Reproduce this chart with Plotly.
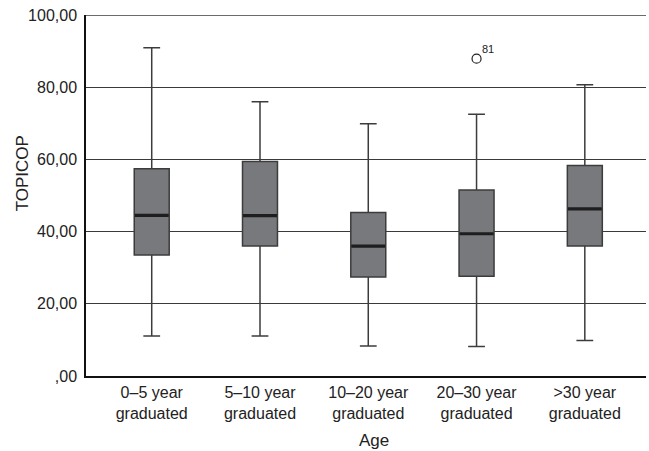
import plotly.graph_objects as go

categories = ["0–5 year<br>graduated", "5–10 year<br>graduated", "10–20 year<br>graduated",
              "20–30 year<br>graduated", ">30 year<br>graduated"]
lower_whisker = [11.1, 11.1, 8.3, 8.2, 9.8]
q1_values = [33.5, 36.0, 27.4, 27.6, 36.0]
median_values = [44.5, 44.4, 36.0, 39.4, 46.3]
q3_values = [57.4, 59.4, 45.3, 51.5, 58.3]
upper_whisker = [90.9, 76.0, 69.9, 72.5, 80.7]
outlier_group = [3]
outlier_values = [87.9]
outlier_labels = ["81"]
y_tickvals = [0, 20, 40, 60, 80, 100]
y_ticktext = [",00", "20,00", "40,00", "60,00", "80,00", "100,00"]

positions = list(range(len(categories)))
BOX_W = 0.323

fig = go.Figure()
fig.add_trace(go.Box(
    x=positions, q1=q1_values, median=median_values, q3=q3_values,
    lowerfence=lower_whisker, upperfence=upper_whisker,
    width=BOX_W, whiskerwidth=0.48,
    fillcolor="#78797c", line=dict(color="#3c3c3c", width=1.5),
    boxpoints=False, hoverinfo="skip", showlegend=False,
))

mx, my = [], []
for p, m in zip(positions, median_values):
    mx += [p - BOX_W / 2 + 0.005, p + BOX_W / 2 - 0.005, None]
    my += [m, m, None]
fig.add_trace(go.Scatter(x=mx, y=my, mode="lines", line=dict(color="#1e1e1e", width=3.2),
                         showlegend=False, hoverinfo="skip"))

fig.add_trace(go.Scatter(
    x=outlier_group, y=outlier_values, mode="markers",
    marker=dict(symbol="circle-open", size=9, color="#222", line=dict(width=1.2)),
    showlegend=False, hoverinfo="skip", cliponaxis=False,
))

annotations = [
    dict(text="TOPICOP", xref="paper", yref="paper", x=-0.114, y=0.562,
         xanchor="center", yanchor="middle",
         textangle=-90, showarrow=False, font=dict(size=17)),
    dict(text="Age", xref="paper", yref="paper", x=0.514, y=-0.178,
         xanchor="center", yanchor="middle", showarrow=False, font=dict(size=17)),
]
for gx, gy, lab in zip(outlier_group, outlier_values, outlier_labels):
    annotations.append(dict(text=lab, x=gx, y=gy, xref="x", yref="y", showarrow=False,
                            xanchor="left", yanchor="bottom", xshift=3, yshift=2,
                            font=dict(size=11, color="#222")))

# top gridline (at the highest tick), which plotly drops at the plot edge
fig.add_shape(type="line", xref="paper", yref="y", x0=0, x1=1,
              y0=y_tickvals[-1], y1=y_tickvals[-1],
              line=dict(color="#3a3a3a", width=1.3), layer="above")

fig.update_layout(
    width=649, height=451,
    margin=dict(l=86, r=3, t=15, b=75),
    paper_bgcolor="white", plot_bgcolor="white",
    font=dict(family="Liberation Sans, Arial, sans-serif", size=16, color="#222"),
    xaxis=dict(range=[-0.607, 4.565], tickvals=positions, ticktext=categories,
               showgrid=False, zeroline=False, showline=True, linecolor="#111", linewidth=1.5,
               ticks="outside", ticklen=1, tickcolor="rgba(0,0,0,0)"),
    yaxis=dict(range=[0, 100], tickvals=y_tickvals, ticktext=y_ticktext,
               showgrid=True, gridcolor="#3a3a3a", gridwidth=1, zeroline=False,
               showline=True, linecolor="#111", linewidth=1.5,
               ticks="outside", ticklen=4, tickcolor="rgba(0,0,0,0)"),
    annotations=annotations,
)

fig.write_html("out.html", post_script="document.body.style.margin='0';",
               config={"displayModeBar": False})
